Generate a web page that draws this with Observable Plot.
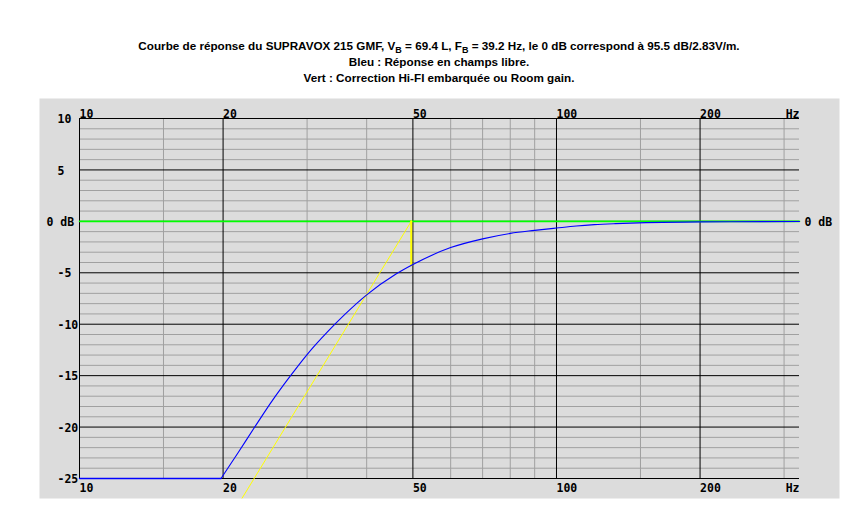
<!DOCTYPE html>
<html><head><meta charset="utf-8">
<script src="https://cdn.jsdelivr.net/npm/d3@7"></script>
<script src="https://cdn.jsdelivr.net/npm/@observablehq/plot@0.6"></script>
<style>
body{margin:0;background:#fff;}
#title{position:relative;width:866px;height:90px;}
#title .t{position:absolute;left:39px;width:800px;top:38px;text-align:center;font:bold 11.7px "Liberation Sans",Arial,sans-serif;line-height:16px;color:#000;}
#title sub{font-size:9px;vertical-align:-3px;line-height:0;}
#chart svg{display:block;}
</style></head><body>
<div id="title"><div class="t">Courbe de réponse du SUPRAVOX 215 GMF, V<sub>B</sub> = 69.4 L, F<sub>B</sub> = 39.2 Hz, le 0 dB correspond à 95.5 dB/2.83V/m.<br>Bleu : Réponse en champs libre.<br>Vert : Correction Hi-FI embarquée ou Room gain.</div></div>
<div id="chart"></div>
<script>
// Frequency grid (Hz)
const freqMajor = [10, 20, 50, 100, 200];
const freqMinor = [15, 30, 40, 60, 70, 80, 90, 150, 300];
const freqLabels = ["10", "20", "50", "100", "200"];
const freqEnd = 323.2;
const freqUnit = "Hz";
// Level grid (dB)
const dbMajor = [-25, -20, -15, -10, -5, 0, 5, 10];
const dbMinor = [-24, -23, -22, -21, -19, -18, -17, -16, -14, -13, -12, -11, -9, -8, -7, -6, -4, -3, -2, -1, 1, 2, 3, 4, 6, 7, 8, 9];
const dbLabelValues = [10, 5, -5, -10, -15, -20, -25];
const dbLabels = ["10", "5", "-5", "-10", "-15", "-20", "-25"];
const zeroLabel = "0 dB";
// Blue: free-field response
const blueFreq = [10, 19.8, 21.5, 23.3, 25.3, 27.6, 30, 33.1, 36, 40, 46, 50, 60, 70, 80, 90, 100, 110, 120, 133, 154, 200, 323.2];
const blueDb   = [-25, -25, -22.5, -20, -17.5, -15.1, -12.95, -10.75, -9.05, -7.15, -5.15, -4.2, -2.55, -1.7, -1.17, -0.88, -0.65, -0.45, -0.32, -0.22, -0.12, -0.05, -0.02];
// Green: 0 dB reference
const greenFreq = [10, 323.2];
const greenDb = [0, 0];
// Yellow: correction slope
const yellowFreq = [21.93, 49.6];
const yellowDb = [-26.9, 0];
const yellowStepFreq = [49.6, 49.6];
const yellowStepDb = [0, -4.3];

const zip = (xs, ys) => xs.map((x, i) => ({x, y: ys[i]}));
const blue = zip(blueFreq, blueDb);
const font = {fontFamily: "DejaVu Sans Mono", fontWeight: "bold", fontSize: 11.5, fill: "black"};

const chart = Plot.plot({
  width: 866,
  height: 417,
  marginTop: 8,
  marginBottom: 9,
  marginLeft: 39,
  marginRight: 27,
  style: {background: "white"},
  x: {type: "log", domain: [10, freqEnd], range: [79, 799], axis: null},
  y: {domain: [-25, 10], range: [388, 28], axis: null},
  marks: [
    Plot.frame({fill: "#dcdcdc", stroke: null}),
    Plot.ruleX(freqMinor, {x: d => d, y1: () => -25, y2: () => 10, stroke: "#a0a0a0", strokeWidth: 1}),
    Plot.ruleY(dbMinor, {y: d => d, x1: () => 10, x2: () => freqEnd, stroke: "#a0a0a0", strokeWidth: 1}),
    Plot.ruleY(dbMajor, {y: d => d, x1: () => 10, x2: () => freqEnd, stroke: "black", strokeWidth: 1}),
    Plot.ruleX(freqMajor, {x: d => d, y1: () => -25, y2: () => 10, stroke: "black", strokeWidth: 1}),
    Plot.line(zip(greenFreq, greenDb), {x: "x", y: "y", stroke: "#00ff00", strokeWidth: 1.6}),
    Plot.line(zip(yellowFreq, yellowDb), {x: "x", y: "y", stroke: "#ffff00", strokeWidth: 1}),
    Plot.line(zip(yellowStepFreq, yellowStepDb), {x: "x", y: "y", stroke: "#ffff00", strokeWidth: 2}),
    Plot.line(blue.slice(0, 2), {x: "x", y: "y", stroke: "#0000ff", strokeWidth: 1.3}),
    Plot.line(blue.slice(1), {x: "x", y: "y", stroke: "#0000ff", strokeWidth: 1.1, curve: "monotone-x"}),
    // top axis labels
    Plot.text(freqMajor, {x: d => d, y: () => 10, text: (d, i) => freqLabels[i], textAnchor: "start", lineAnchor: "bottom", dy: -1, ...font}),
    Plot.text([freqEnd], {x: d => d, y: () => 10, text: () => freqUnit, textAnchor: "end", lineAnchor: "bottom", dy: -1, ...font}),
    // bottom axis labels
    Plot.text(freqMajor, {x: d => d, y: () => -25, text: (d, i) => freqLabels[i], textAnchor: "start", lineAnchor: "top", dy: 5, ...font}),
    Plot.text([freqEnd], {x: d => d, y: () => -25, text: () => freqUnit, textAnchor: "end", lineAnchor: "top", dy: 5, ...font}),
    // left labels
    Plot.text(dbLabelValues, {y: d => d, frameAnchor: "left", text: (d, i) => dbLabels[i], textAnchor: "start", dx: 18, dy: 1, ...font}),
    Plot.text([0], {y: d => d, frameAnchor: "left", text: () => zeroLabel, textAnchor: "start", dx: 7, dy: 1, ...font}),
    // right label
    Plot.text([0], {x: () => freqEnd, y: d => d, text: () => zeroLabel, textAnchor: "start", dx: 5, dy: 1, ...font})
  ]
});
document.getElementById("chart").appendChild(chart);
</script>
</body></html>
